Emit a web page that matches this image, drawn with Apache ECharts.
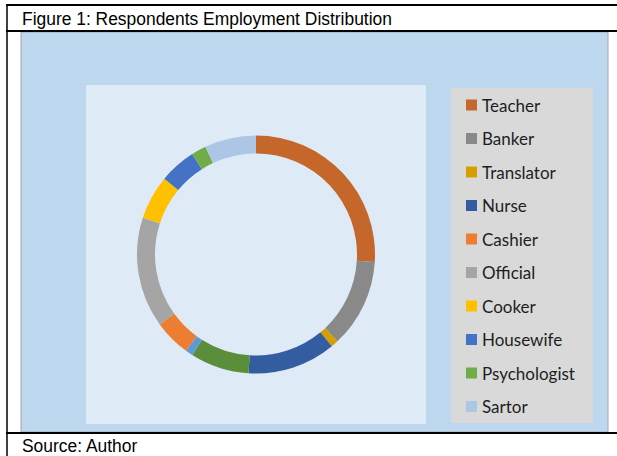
<!DOCTYPE html>
<html>
<head>
<meta charset="utf-8">
<script src="https://cdn.jsdelivr.net/npm/echarts@6/dist/echarts.min.js"></script>
<style>
html,body{margin:0;padding:0;background:#fff;}
#c{width:617px;height:456px;}
</style>
</head>
<body>
<div id="c"></div>
<script>
// Data (ring order, clockwise from 12 o'clock)
const categories = ["Teacher","Banker","Translator","Nurse","Unlisted 1","Unlisted 2","Cashier","Official","Cooker","Housewife","Psychologist","Sartor"];
const values = [26, 12, 1, 12, 8, 1, 5, 15, 6, 5, 2, 7];
const legendNames = ["Teacher","Banker","Translator","Nurse","Cashier","Official","Cooker","Housewife","Psychologist","Sartor"];
const titleText = "Figure 1: Respondents Employment Distribution";
const sourceText = "Source: Author";

const palette = ["#C5672A","#898989","#D4A000","#345CA0","#5A8E3A","#5B9BD5","#ED7D31","#A5A5A5","#FFC000","#4472C4","#70AD47","#ADC6E5"];

const chart = echarts.init(document.getElementById('c'), null, {renderer:'svg'});
const capFont = '19px "Liberation Sans", Arial, sans-serif';
chart.setOption({
  animation:false,
  color: palette,
  graphic: [
    {type:'rect', z:-10, shape:{x:21,y:32,width:587,height:400}, style:{fill:'#BDD7EE', stroke:'#A6A6A6', lineWidth:1}},
    {type:'rect', z:-9, shape:{x:86,y:85,width:340,height:339}, style:{fill:'#DEEBF7'}},
    {type:'rect', z:-9, shape:{x:451,y:88,width:142,height:335}, style:{fill:'#D9D9D9'}},
    {type:'line', z:5, shape:{x1:6,y1:5,x2:617,y2:5}, style:{stroke:'#000', lineWidth:2}},
    {type:'line', z:5, shape:{x1:6,y1:31,x2:617,y2:31}, style:{stroke:'#000', lineWidth:2}},
    {type:'line', z:5, shape:{x1:6,y1:433,x2:617,y2:433}, style:{stroke:'#000', lineWidth:2}},
    {type:'line', z:5, shape:{x1:7,y1:4,x2:7,y2:456}, style:{stroke:'#000', lineWidth:1.5}},
    {type:'text', z:5, x:22, y:18, scaleX:0.918, style:{text:titleText, font:capFont, fill:'#000', textVerticalAlign:'middle'}},
    {type:'text', z:5, x:22, y:445, scaleX:0.918, style:{text:sourceText, font:capFont, fill:'#000', textVerticalAlign:'middle'}}
  ],
  legend: {
    orient:'vertical',
    left:466, top:96.5,
    padding:0,
    data: legendNames,
    icon:'rect',
    itemWidth:11, itemHeight:11,
    itemGap:16.5,
    selectedMode:false,
    textStyle:{fontFamily:'Lato, "Open Sans", sans-serif', fontSize:17, color:'#1e1e1e', lineHeight:17}
  },
  series: [{
    type:'pie',
    center:[256,254.5],
    radius:[101,119],
    startAngle:90,
    clockwise:true,
    label:{show:false},
    labelLine:{show:false},
    emphasis:{disabled:true},
    itemStyle:{borderWidth:0},
    data: categories.map((n,i)=>({name:n, value:values[i]}))
  }]
});
</script>
</body>
</html>
